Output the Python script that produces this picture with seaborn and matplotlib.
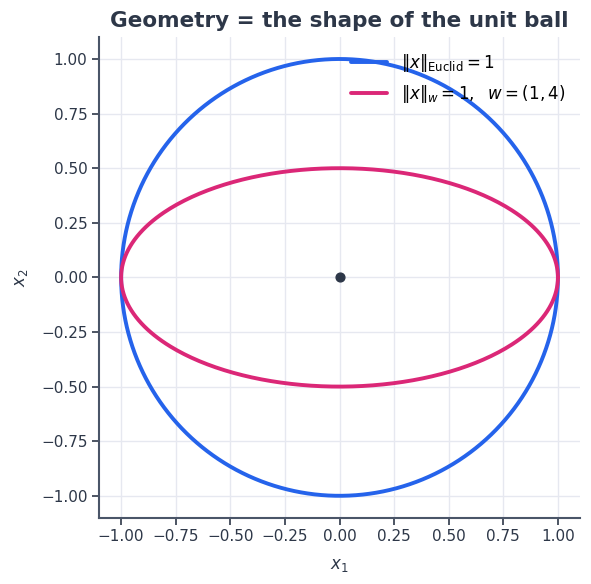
import numpy as np
import pandas as pd
import seaborn as sns
import matplotlib.pyplot as plt

# unit balls: semi-axes (a along x1, b along x2)
shape_names = ["euclid", "weighted"]
labels = [r"$\|x\|_{\mathrm{Euclid}} = 1$", r"$\|x\|_{w} = 1,\ \ w = (1, 4)$"]
weights = [(1, 1), (1, 4)]
colors = ["#2563eb", "#db2777"]
center = [0.0, 0.0]
ticks = [-1.0, -0.75, -0.5, -0.25, 0.0, 0.25, 0.5, 0.75, 1.0]

sns.set_theme(style="whitegrid")
ink = "#2d3748"
plt.rcParams.update({
    "axes.edgecolor": "#4a5568",
    "grid.color": "#e6e8f0",
    "text.color": ink,
    "axes.labelcolor": ink,
    "xtick.color": ink,
    "ytick.color": ink,
})

t = np.linspace(0, 2 * np.pi, 400)
rows = []
for name, (w1, w2) in zip(shape_names, weights):
    # ||x||_w^2 = w1*x1^2 + w2*x2^2 = 1
    a, b = 1 / np.sqrt(w1), 1 / np.sqrt(w2)
    rows.append(pd.DataFrame({"x1": a * np.cos(t), "x2": b * np.sin(t), "shape": name, "order": np.arange(len(t))}))
df = pd.concat(rows, ignore_index=True)

fig, ax = plt.subplots(figsize=(5.91, 5.84), dpi=100)
for name, lab, c in zip(shape_names, labels, colors):
    sub = df[df["shape"] == name]
    sns.lineplot(data=sub, x="x1", y="x2", sort=False, estimator=None, color=c, lw=2.8, label=lab, ax=ax)
ax.scatter([center[0]], [center[1]], s=40, color=ink, zorder=5)

ax.set_xlim(-1.1, 1.1)
ax.set_ylim(-1.1, 1.1)
ax.set_aspect("equal")
ax.set_xticks(ticks)
ax.set_yticks(ticks)
ax.set_xlabel(r"$x_1$", fontsize=12, labelpad=8)
ax.set_ylabel(r"$x_2$", fontsize=12, labelpad=8)
ax.tick_params(axis="both", labelsize=11, length=5, width=1.2, left=True, bottom=True)
ax.set_title("Geometry = the shape of the unit ball", fontsize=15.5, fontweight="bold", color=ink, pad=7)
sns.despine(ax=ax)
for s in ["left", "bottom"]:
    ax.spines[s].set_linewidth(1.5)
leg = ax.legend(loc="upper right", frameon=False, fontsize=12, handlelength=2.2,
                borderaxespad=0.5, labelspacing=0.55)
for txt in leg.get_texts():
    txt.set_color("black")

fig.subplots_adjust(left=0.168, right=0.981, top=0.937, bottom=0.113)
fig.savefig("out.png", dpi=100)
